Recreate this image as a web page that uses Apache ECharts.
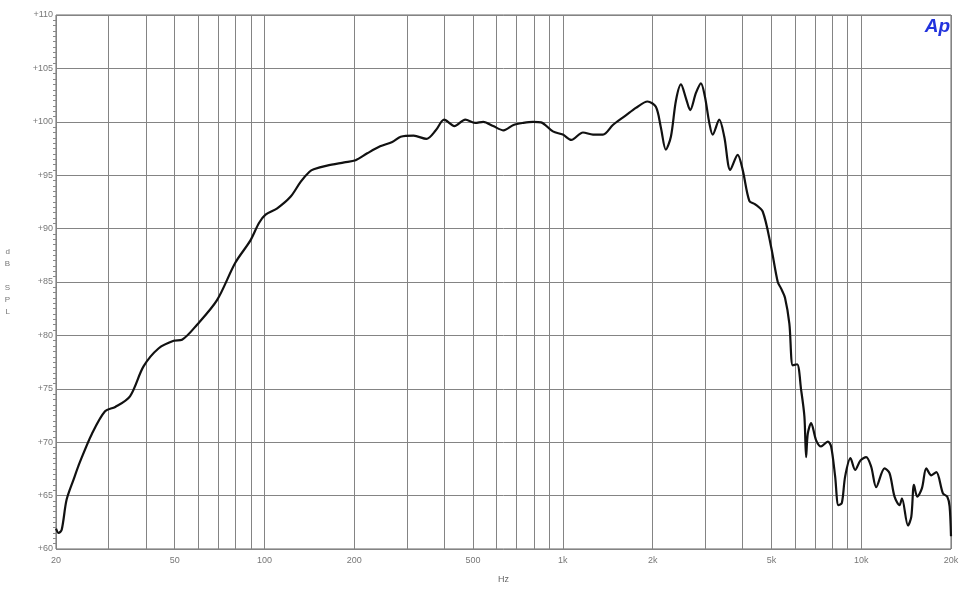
<!DOCTYPE html>
<html>
<head>
<meta charset="utf-8">
<script src="https://cdn.jsdelivr.net/npm/echarts@6/dist/echarts.min.js"></script>
<style>html,body{margin:0;padding:0;background:#fff}#c{width:968px;height:600px}</style>
</head>
<body>
<div id="c"></div>
<script>
// Frequency (Hz) and SPL (dB)
const freqs = [20, 20.4, 20.9, 21.7, 22.9, 24.1, 26.4, 29.2, 31.6, 35.4, 39.3, 44.2, 49.6, 52.9, 59.4, 69.3, 79.8, 89.7, 95.7, 100.8, 110.3, 122.4, 132.3, 141.2, 146.2, 162, 185, 202, 221, 244, 268, 286, 316, 349, 375, 400, 433, 471, 508, 541, 584, 633, 683, 737, 795, 845, 926, 1000, 1067, 1168, 1262, 1363, 1471, 1626, 1757, 1922, 2050, 2130, 2214, 2302, 2394, 2488, 2586, 2672, 2793, 2903, 2994, 3096, 3178, 3344, 3476, 3640, 3855, 4006, 4217, 4400, 4676, 4988, 5252, 5386, 5556, 5744, 5898, 6098, 6290, 6452, 6537, 6622, 6795, 7058, 7337, 7728, 7928, 8178, 8390, 8612, 8836, 9206, 9546, 9946, 10392, 10802, 11228, 11972, 12444, 12936, 13446, 13696, 14348, 14720, 15028, 15416, 15986, 16526, 17178, 17854, 18802, 19436, 19784, 20000];
const spl = [61.9, 61.5, 61.8, 64.6, 66.5, 68.2, 70.8, 72.9, 73.3, 74.3, 77.1, 78.8, 79.5, 79.6, 81.0, 83.3, 86.8, 88.9, 90.5, 91.3, 91.9, 93.0, 94.4, 95.3, 95.55, 95.9, 96.2, 96.4, 97.05, 97.7, 98.1, 98.6, 98.7, 98.4, 99.2, 100.2, 99.6, 100.2, 99.9, 100.0, 99.6, 99.2, 99.7, 99.9, 100.0, 99.95, 99.1, 98.8, 98.3, 99.0, 98.8, 98.8, 99.7, 100.6, 101.3, 101.9, 101.4, 99.5, 97.4, 98.6, 102.0, 103.5, 102.2, 101.1, 102.7, 103.6, 102.35, 99.9, 98.8, 100.2, 98.6, 95.5, 96.9, 95.5, 92.6, 92.3, 91.6, 88.3, 85.0, 84.4, 83.5, 81.1, 77.2, 77.3, 74.9, 72.4, 68.6, 70.8, 71.8, 70.2, 69.6, 70.05, 69.6, 66.8, 64.1, 64.3, 66.8, 68.5, 67.4, 68.3, 68.6, 67.7, 65.8, 67.55, 67.1, 64.9, 64.1, 64.75, 62.2, 63.0, 66.0, 64.9, 65.7, 67.55, 66.9, 67.2, 65.2, 64.9, 64.0, 61.2];
const gridFreqs = [20,30,40,50,60,70,80,90,100,200,300,400,500,600,700,800,900,1000,2000,3000,4000,5000,6000,7000,8000,9000,10000,20000];
const labelFreqs = [20,50,100,200,500,1000,2000,5000,10000,20000];

const chart = echarts.init(document.getElementById('c'), null, {renderer:'canvas'});
const fmtHz = v => v >= 1000 ? (Math.round(v/1000)) + 'k' : String(Math.round(v));
chart.setOption({
  backgroundColor: '#fff',
  animation: false,
  grid: {left: 56, right: 17, top: 15, bottom: 51, show: true, borderColor: '#666', borderWidth: 1},
  xAxis: {
    type: 'log', logBase: 10, min: 20, max: 20000,
    name: 'Hz', nameLocation: 'middle', nameGap: 26,
    nameTextStyle: {color: '#666', fontSize: 9, fontFamily: 'Liberation Sans'},
    axisLine: {show: false},
    axisTick: {show: false, customValues: gridFreqs},
    axisLabel: {customValues: labelFreqs, formatter: fmtHz, color: '#777', fontSize: 9, fontFamily: 'Liberation Sans', margin: 7},
    splitLine: {show: true, lineStyle: {color: '#848484', width: 1}},
    minorSplitLine: {show: false}
  },
  yAxis: {
    type: 'value', min: 60, max: 110, interval: 5,
    name: 'd\nB\n\nS\nP\nL', nameLocation: 'middle', nameGap: 46, nameRotate: 0,
    nameTextStyle: {color: '#777', fontSize: 8, lineHeight: 12, fontFamily: 'Liberation Sans'},
    axisLine: {show: false},
    axisTick: {show: false},
    minorTick: {show: true, splitNumber: 10, length: 3, lineStyle: {color: '#888'}},
    axisLabel: {formatter: v => '+' + v, color: '#777', fontSize: 9, fontFamily: 'Liberation Sans', margin: 3},
    splitLine: {show: true, lineStyle: {color: '#848484', width: 1}}
  },
  graphic: [{
    type: 'text', right: 18, top: 17,
    style: {text: 'Ap', fill: '#2233dd', font: 'italic bold 19px "Liberation Sans"'}
  }],
  series: [{
    type: 'line',
    data: freqs.map((f, i) => [f, spl[i]]),
    showSymbol: false,
    smooth: 0.3,
    lineStyle: {color: '#111', width: 2.2}
  }]
});
</script>
</body>
</html>
